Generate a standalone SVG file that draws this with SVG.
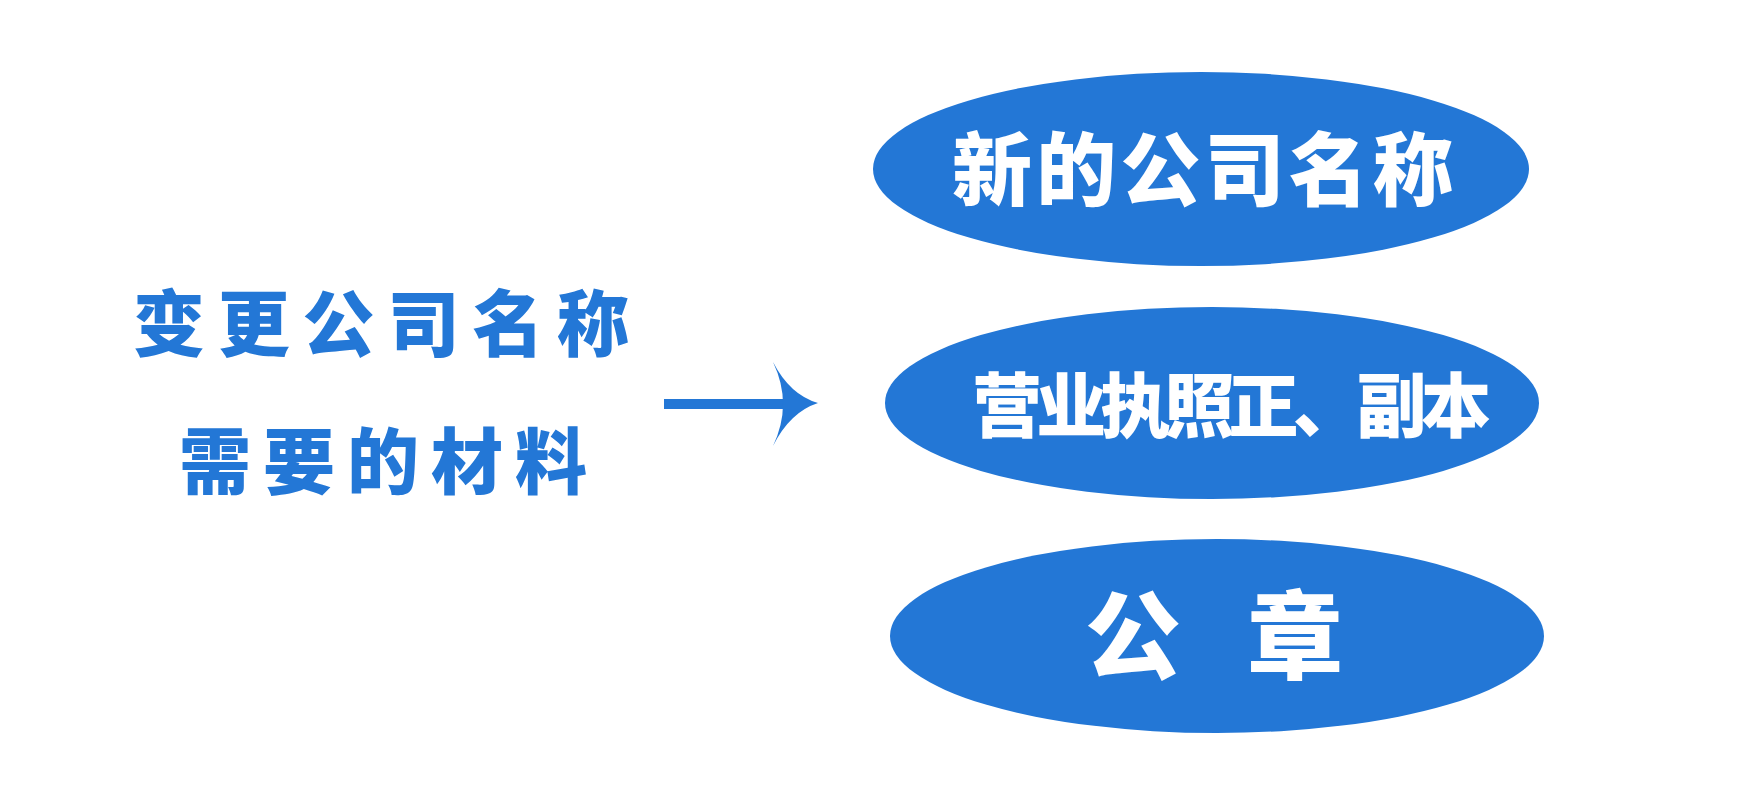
<svg xmlns="http://www.w3.org/2000/svg" width="1752" height="807" viewBox="0 0 1752 807">
<style>
.bg{fill:#ffffff}
.ell{fill:#2377d6}
.lbl{font-family:"Noto Sans CJK SC","Noto Sans CJK JP",sans-serif;font-weight:900}
.blue{fill:#2377d6}
.white{fill:#ffffff}
</style>
<rect class="bg" x="0" y="0" width="1752" height="807"/>
<g id="title">
<text class="lbl blue" x="133" y="350" font-size="72" textLength="496" lengthAdjust="spacing">变更公司名称</text>
<text class="lbl blue" x="179" y="488" font-size="72" textLength="408" lengthAdjust="spacing">需要的材料</text>
</g>
<g id="connectors">
<rect class="blue" x="664" y="399" width="122" height="10"/>
<path class="blue" d="M773,362 Q790,395 818,403 Q790,412 773,446 Q793,404 773,362 Z"/>
</g>
<g id="node-new-name">
<ellipse class="ell" cx="1201" cy="169" rx="328" ry="97"/>
<text class="lbl white" x="952" y="199" font-size="80" textLength="501" lengthAdjust="spacing">新的公司名称</text>
</g>
<g id="node-license">
<ellipse class="ell" cx="1212" cy="403" rx="327" ry="96"/>
<text class="lbl white" x="972" y="432" font-size="70" textLength="519" lengthAdjust="spacing">营业执照正、副本</text>
</g>
<g id="node-seal">
<ellipse class="ell" cx="1217" cy="636" rx="327" ry="97"/>
<text class="lbl white" x="1085" y="671" font-size="96" textLength="258" lengthAdjust="spacing">公 章</text>
</g>
</svg>
